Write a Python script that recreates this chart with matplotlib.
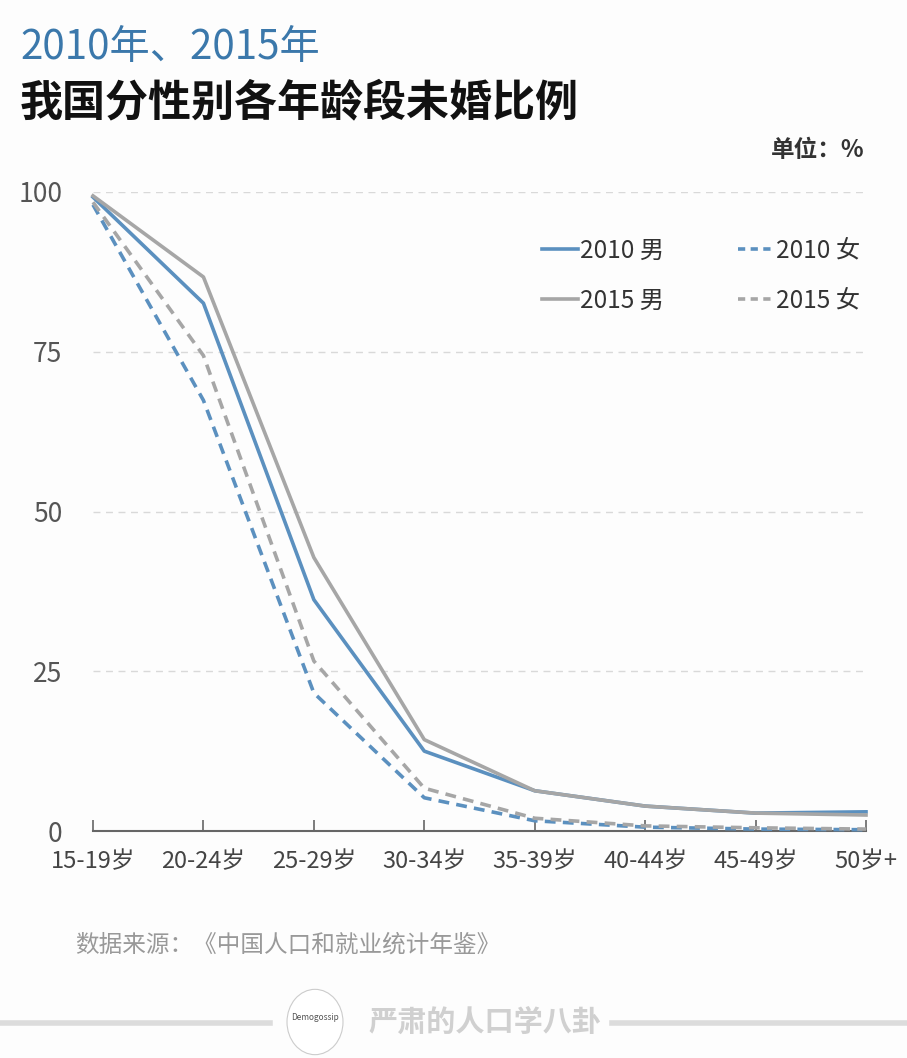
import numpy as np
import matplotlib.pyplot as plt
from matplotlib.patches import Circle
from matplotlib.lines import Line2D

plt.rcParams['font.family'] = ['Noto Sans CJK SC', 'DejaVu Sans']

# age groups and unmarried share (%)
ages = ['15-19岁', '20-24岁', '25-29岁', '30-34岁', '35-39岁', '40-44岁', '45-49岁', '50岁+']
male_2010 = [99.2, 82.6, 36.2, 12.5, 6.3, 3.9, 2.8, 3.0]
female_2010 = [98.0, 67.4, 21.6, 5.2, 1.6, 0.6, 0.3, 0.2]
male_2015 = [99.4, 86.7, 42.8, 14.3, 6.3, 3.9, 2.8, 2.5]
female_2015 = [98.4, 74.4, 26.6, 6.7, 2.0, 0.8, 0.5, 0.3]
yticks = [0, 25, 50, 75, 100]

blue = '#5b90bf'
grey = '#a6a6a6'
bg = '#fdfdfd'

fig = plt.figure(figsize=(9.07, 10.58), dpi=100, facecolor=bg)
ax = fig.add_axes([93/907, (1058-831)/1058, (866-93)/907, (831-192)/1058])
ax.set_facecolor(bg)

x = np.arange(len(ages))
ax.plot(x, male_2010, color=blue, lw=2.6, clip_on=False, zorder=4)
ax.plot(x, female_2010, color=blue, lw=2.6, ls=(0, (3, 2)), clip_on=False, zorder=3)
ax.plot(x, male_2015, color=grey, lw=2.6, clip_on=False, zorder=4)
ax.plot(x, female_2015, color=grey, lw=2.6, ls=(0, (3, 2)), clip_on=False, zorder=3)

ax.set_xlim(0, len(ages) - 1)
ax.set_ylim(0, 100)
ax.set_yticks(yticks)
ax.set_yticklabels([str(v) for v in yticks], fontsize=19, color='#555555', fontweight='light')
ax.set_xticks(x)
ax.set_xticklabels(ages, fontsize=17, color='#444444', fontweight='light')
ax.tick_params(axis='y', length=0, pad=22)
ax.tick_params(axis='x', direction='in', length=8, width=1.2, color='#666666', pad=14)

for v in yticks[1:]:
    ax.axhline(v, color='#d9d9d9', lw=1, ls=(0, (5, 4)), zorder=1)

for s in ['top', 'right', 'left']:
    ax.spines[s].set_visible(False)
ax.spines['bottom'].set_color('#666666')
ax.spines['bottom'].set_linewidth(1.5)

handles = [Line2D([], [], color=blue, lw=2.6), Line2D([], [], color=grey, lw=2.6),
           Line2D([], [], color=blue, lw=2.6, ls=(0, (2, 1.5))),
           Line2D([], [], color=grey, lw=2.6, ls=(0, (2, 1.5)))]
leg = ax.legend(handles, ['2010 男', '2015 男', '2010 女', '2015 女'],
                ncol=2, loc='upper left', bbox_to_anchor=(0.552, 0.963), frameon=False,
                handlelength=1.5, handletextpad=0.1, columnspacing=3.0,
                labelspacing=1.0, prop={'weight': 'light', 'size': 17.5})
for t in leg.get_texts():
    t.set_color('#333333')

fig.text(20/907, 1 - 47/1058, '2010年、2015年', fontsize=29, color='#3b78ab', va='center', fontweight='medium')
fig.text(20/907, 1 - 102/1058, '我国分性别各年龄段未婚比例', fontsize=31, color='#111111', va='center', fontweight='bold')
fig.text(865/907, 1 - 150/1058, '单位：%', fontsize=17, color='#333333', va='center', ha='right', fontweight='bold')
fig.text(75/907, 1 - 945/1058, '数据来源：《中国人口和就业统计年鉴》', fontsize=17, color='#999999', va='center',
         fontweight='light')

# footer
fig.add_artist(Line2D([0, 270/907], [1 - 1023/1058] * 2, color='#dcdcdc', lw=4, transform=fig.transFigure))
fig.add_artist(Line2D([612/907, 1], [1 - 1023/1058] * 2, color='#dcdcdc', lw=4, transform=fig.transFigure))
circ = Circle((315/907, 1 - 1022/1058), 28/907, transform=fig.transFigure, facecolor='white',
              edgecolor='#cccccc', lw=0.8)
fig.add_artist(circ)
fig.text(315/907, 1 - 1018/1058, 'Demogossip', fontsize=6, color='#555555', ha='center', va='center')
fig.text(485/907, 1 - 1022/1058, '严肃的人口学八卦', fontsize=21, color='#d0d0d0', ha='center', va='center',
         fontweight='bold')

fig.savefig('out.png', dpi=100, facecolor=bg)
